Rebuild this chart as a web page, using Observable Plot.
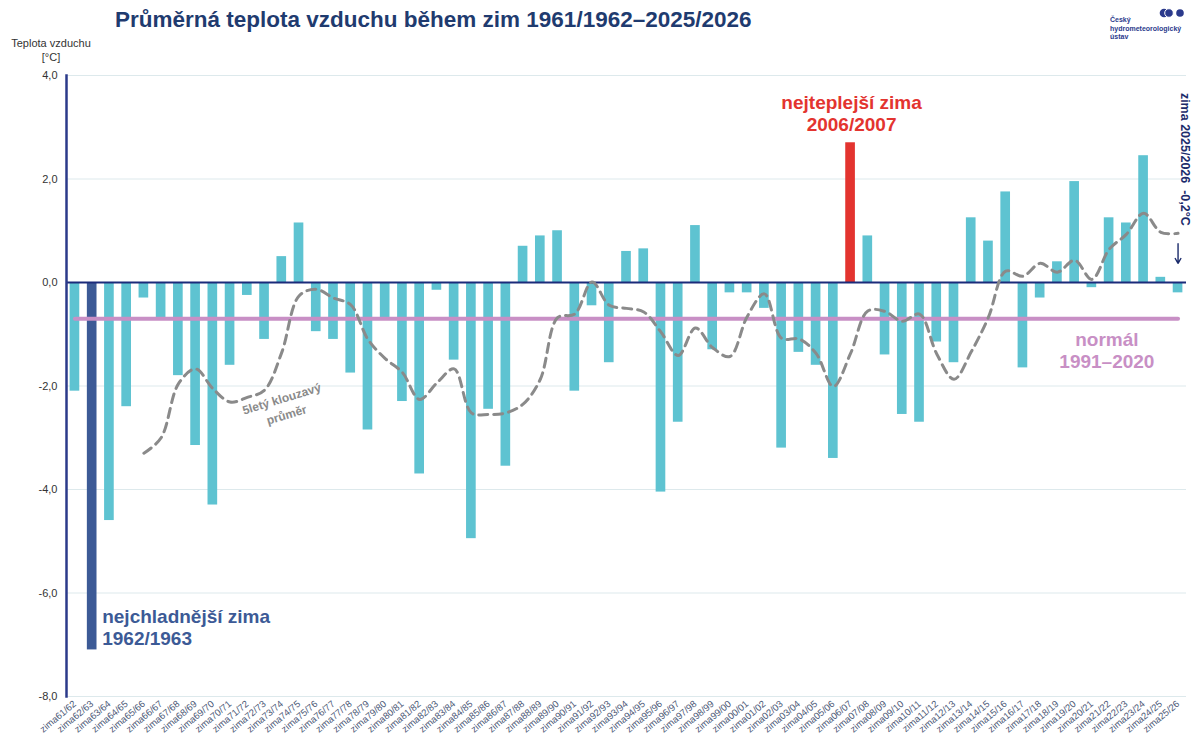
<!DOCTYPE html>
<html><head><meta charset="utf-8">
<script src="https://cdn.jsdelivr.net/npm/d3@7"></script>
<script src="https://cdn.jsdelivr.net/npm/@observablehq/plot@0.6"></script>
<style>
body{margin:0;background:#fff;font-family:"Liberation Sans",Arial,sans-serif}
#wrap{position:relative;width:1192px;height:745px;overflow:hidden}
#title{position:absolute;left:115px;top:7px;font-size:22.5px;font-weight:bold;color:#1f3b6f;white-space:nowrap}
#ylab{position:absolute;left:0;width:102px;top:36px;text-align:center;font-size:11px;color:#333;line-height:14px}
#logo{position:absolute;left:1108px;top:5px}
#logotext{position:absolute;left:1110px;top:16px;font-size:7px;font-weight:bold;color:#2b3a8c;line-height:8.5px}
#chart{position:absolute;left:0;top:0}
</style></head>
<body>
<div id="wrap">
  <div id="chart"></div>
  <div id="title">Průměrná teplota vzduchu během zim 1961/1962–2025/2026</div>
  <div id="ylab">Teplota vzduchu<br>[°C]</div>
  <svg id="logo" width="84" height="16"><circle cx="56" cy="8" r="4.3" fill="#2b3a8c"/><circle cx="61" cy="8" r="4.3" fill="#2b3a8c" stroke="#fff" stroke-width="1"/><circle cx="72" cy="8" r="3.8" fill="#2b3a8c"/></svg>
  <div id="logotext">Český<br>hydrometeorologický<br>ústav</div>
</div>
<script>
const categories = ["zima61/62","zima62/63","zima63/64","zima64/65","zima65/66","zima66/67","zima67/68","zima68/69","zima69/70","zima70/71",
"zima71/72","zima72/73","zima73/74","zima74/75","zima75/76","zima76/77","zima77/78","zima78/79","zima79/80","zima80/81",
"zima81/82","zima82/83","zima83/84","zima84/85","zima85/86","zima86/87","zima87/88","zima88/89","zima89/90","zima90/91",
"zima91/92","zima92/93","zima93/94","zima94/95","zima95/96","zima96/97","zima97/98","zima98/99","zima99/00","zima00/01",
"zima01/02","zima02/03","zima03/04","zima04/05","zima05/06","zima06/07","zima07/08","zima08/09","zima09/10","zima10/11",
"zima11/12","zima12/13","zima13/14","zima14/15","zima15/16","zima16/17","zima17/18","zima18/19","zima19/20","zima20/21",
"zima21/22","zima22/23","zima23/24","zima24/25","zima25/26"];
const temps = [-2.1,-7.1,-4.6,-2.4,-0.3,-0.7,-1.8,-3.15,-4.3,-1.6,
-0.25,-1.1,0.5,1.15,-0.95,-1.1,-1.75,-2.85,-0.7,-2.3,
-3.7,-0.15,-1.5,-4.95,-2.45,-3.55,0.7,0.9,1.0,-2.1,
-0.45,-1.55,0.6,0.65,-4.05,-2.7,1.1,-1.3,-0.2,-0.2,
-0.5,-3.2,-1.35,-1.6,-3.4,2.7,0.9,-1.4,-2.55,-2.7,
-1.15,-1.55,1.25,0.8,1.75,-1.65,-0.3,0.4,1.95,-0.1,
1.25,1.15,2.45,0.1,-0.2];
const movingAvg = [null,null,null,null,-3.3,-3.0,-1.96,-1.67,-2.05,-2.31,
-2.22,-2.08,-1.35,-0.26,-0.13,-0.3,-0.43,-1.1,-1.47,-1.74,
-2.26,-1.94,-1.67,-2.52,-2.55,-2.52,-2.35,-1.87,-0.68,-0.61,
0.01,-0.44,-0.5,-0.57,-0.96,-1.41,-0.88,-1.26,-1.43,-0.66,
-0.22,-1.08,-1.09,-1.37,-2.01,-1.37,-0.55,-0.56,-0.75,-0.61,
-1.38,-1.87,-1.34,-0.67,0.22,0.12,0.37,0.2,0.43,0.06,
0.64,0.93,1.34,0.97,0.95];
const normal = -0.7;
const yTicks = [-8,-6,-4,-2,0,2,4];
const coldest = "zima62/63";
const warmest = "zima06/07";
const latest = "zima25/26";

const bars = categories.map((c,i)=>({c, t:temps[i], kind: c===coldest?"cold":c===warmest?"warm":"normal"}));
const avg = categories.map((c,i)=>({c, v:movingAvg[i]})).filter(d=>d.v!=null);
const normalLine = categories.map(c=>({c, v:normal}));

const font = "Liberation Sans, Arial, sans-serif";
const chart = Plot.plot({
  width:1192, height:745,
  marginTop:75, marginBottom:49, marginLeft:66, marginRight:6,
  x:{type:"band", domain:categories, paddingInner:0.44, paddingOuter:0.21, round:false, label:null},
  y:{domain:[-8,4], label:null},
  color:{domain:["normal","cold","warm"], range:["#5ec3d1","#3c5a96","#e3342f"]},
  style:{fontFamily:font, background:"transparent", overflow:"visible"},
  marks:[
    Plot.gridY(yTicks, {stroke:"#dde9ec", strokeOpacity:1, strokeWidth:1}),
    Plot.barY(bars, {x:"c", y:"t", fill:"kind"}),
    Plot.lineY(normalLine, {x:"c", y:"v", stroke:"#c88fc5", strokeWidth:4, strokeLinecap:"round"}),
    Plot.ruleY([0], {stroke:"#1b2b7a", strokeWidth:2}),
    Plot.lineY(avg, {x:"c", y:"v", stroke:"#8a8a8a", strokeWidth:3, strokeDasharray:"9,6", curve:"catmull-rom"}),
    Plot.axisY(yTicks, {tickSize:0, tickPadding:9, tickFormat:d=>d.toFixed(1).replace(".",","), fontSize:11, fill:"#333", label:null}),
    Plot.axisX({tickSize:0, tickRotate:-40, fontSize:9.5, fill:"#4b5876", tickPadding:6, label:null}),
    Plot.frame({anchor:"left", stroke:"#2b3a8a", strokeWidth:2.5}),
    Plot.text(["nejchladnější zima\n1962/1963"], {x:[coldest], y:[-6.66], dx:10, textAnchor:"start", lineAnchor:"middle", lineHeight:1.16, fontSize:19, fontWeight:"bold", fill:"#3c5a96"}),
    Plot.text(["nejteplejší zima\n2006/2007"], {x:[warmest], y:[3.28], dx:1, textAnchor:"middle", lineAnchor:"middle", lineHeight:1.16, fontSize:19, fontWeight:"bold", fill:"#e3342f"}),
    Plot.text(["normál\n1991–2020"], {x:["zima20/21"], y:[-1.3], dx:15, textAnchor:"middle", lineAnchor:"middle", lineHeight:1.16, fontSize:19, fontWeight:"bold", fill:"#c88fc5"}),
    Plot.text(["5letý klouzavý\nprůměr"], {x:["zima73/74"], y:[-2.38], dx:2, rotate:-17, textAnchor:"middle", lineAnchor:"middle", lineHeight:1.4, fontSize:12, fontWeight:"bold", fill:"#8a8a8a"}),
    Plot.text(["zima 2025/2026\u00a0 -0,2°C"], {x:[latest], y:[2.38], dx:7, rotate:90, textAnchor:"middle", lineAnchor:"middle", fontSize:12.5, fontWeight:"bold", fill:"#1b2b6b"}),
    Plot.arrow([0], {x1:()=>latest, x2:()=>latest, y1:()=>0.75, y2:()=>0.37, stroke:"#1b2b6b", strokeWidth:1.4, headLength:6})
  ]
});
document.getElementById("chart").appendChild(chart);
</script>
</body></html>
